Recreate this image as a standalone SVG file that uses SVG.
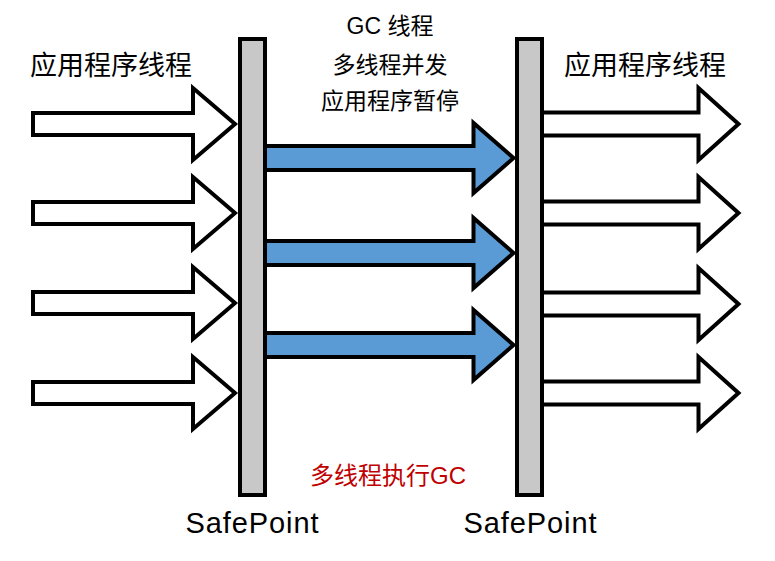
<svg xmlns="http://www.w3.org/2000/svg" width="775" height="561" viewBox="0 0 775 561">
  <style>
    .bar { fill: #c8c8c8; stroke: #000; stroke-width: 4; }
    .white { fill: #fff; stroke: #000; stroke-width: 4; stroke-linejoin: miter; }
    .blue { fill: #5b9bd5; stroke: #000; stroke-width: 4; stroke-linejoin: miter; }
    .t { font-family: "Liberation Sans", "Noto Sans CJK SC", sans-serif; fill: #000; text-anchor: middle; }
    .title { font-size: 27px; }
    .note { font-size: 23px; }
    .sp { font-size: 29px; }
    .red { font-size: 24px; fill: #c00000; }
  </style>
  <defs>
    <path id="inArrow" d="M33,-11 L193,-11 L193,-36 L235,0 L193,36 L193,11 L33,11 Z"/>
    <path id="outArrow" d="M542,-11.5 L698.5,-11.5 L698.5,-36 L738.5,0 L698.5,36 L698.5,11.5 L542,11.5 Z"/>
    <path id="gcArrow" d="M265,-12 L473.5,-12 L473.5,-35 L513.5,0 L473.5,35 L473.5,12 L265,12 Z"/>
  </defs>

  <g id="safepoint-left">
    <rect class="bar" x="240" y="39" width="25" height="456"/>
    <text class="t sp" x="252" y="533" textLength="133" lengthAdjust="spacing">SafePoint</text>
  </g>
  <g id="safepoint-right">
    <rect class="bar" x="517" y="39" width="25" height="456"/>
    <text class="t sp" x="530" y="533" textLength="133" lengthAdjust="spacing">SafePoint</text>
  </g>

  <g id="connectors">
    <use href="#inArrow" class="white" transform="translate(0,124)"/>
    <use href="#inArrow" class="white" transform="translate(0,213)"/>
    <use href="#inArrow" class="white" transform="translate(0,303)"/>
    <use href="#inArrow" class="white" transform="translate(0,393)"/>
    <use href="#gcArrow" class="blue" transform="translate(0,158)"/>
    <use href="#gcArrow" class="blue" transform="translate(0,253)"/>
    <use href="#gcArrow" class="blue" transform="translate(0,345)"/>
    <use href="#outArrow" class="white" transform="translate(0,124)"/>
    <use href="#outArrow" class="white" transform="translate(0,213)"/>
    <use href="#outArrow" class="white" transform="translate(0,304)"/>
    <use href="#outArrow" class="white" transform="translate(0,393)"/>
  </g>

  <g id="label-app-left">
    <text class="t title" x="111" y="75">应用程序线程</text>
  </g>
  <g id="label-app-right">
    <text class="t title" x="645" y="75">应用程序线程</text>
  </g>
  <g id="label-gc">
    <text class="t note" x="390" y="34">GC 线程</text>
    <text class="t note" x="390" y="73">多线程并发</text>
    <text class="t note" x="390" y="109">应用程序暂停</text>
  </g>
  <g id="label-multi-gc">
    <text class="t red" x="388" y="484">多线程执行GC</text>
  </g>
</svg>
